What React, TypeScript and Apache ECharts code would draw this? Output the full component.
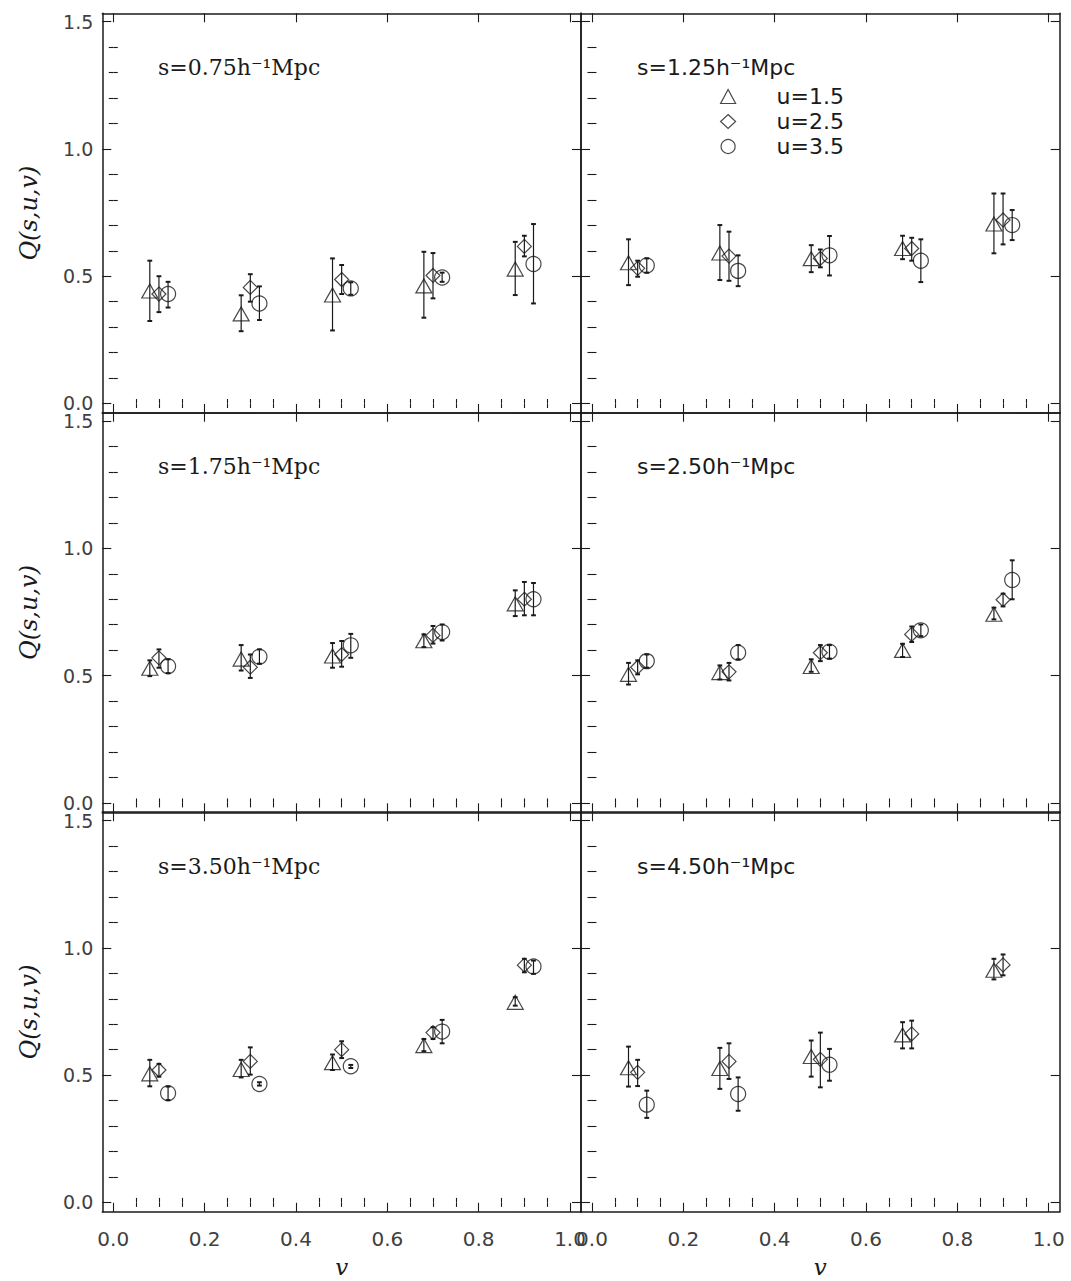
import React, { useEffect, useRef } from 'react';
import * as echarts from 'echarts';

// ---------------- data ----------------
const panelScales = ['0.75', '1.25', '1.75', '2.50', '3.50', '4.50'];
const seriesNames = ['u=1.5', 'u=2.5', 'u=3.5'];
const seriesSymbols = ['triangle', 'diamond', 'circle'];

// v positions of the points (each u is shifted a little in v)
const vU15 = [0.08, 0.28, 0.48, 0.68, 0.88];
const vU25 = [0.1, 0.3, 0.5, 0.7, 0.9];
const vU35 = [0.12, 0.32, 0.52, 0.72, 0.92];

// [Q, lower, upper]
const s075U15 = [[0.442, 0.324, 0.561], [0.352, 0.284, 0.425], [0.426, 0.287, 0.570], [0.462, 0.337, 0.596], [0.528, 0.426, 0.635]];
const s075U25 = [[0.430, 0.359, 0.500], [0.456, 0.400, 0.508], [0.487, 0.430, 0.544], [0.503, 0.413, 0.591], [0.617, 0.578, 0.659]];
const s075U35 = [[0.430, 0.377, 0.478], [0.393, 0.328, 0.460], [0.452, 0.427, 0.476], [0.495, 0.478, 0.514], [0.548, 0.393, 0.705]];

const s125U15 = [[0.553, 0.465, 0.645], [0.591, 0.485, 0.701], [0.569, 0.516, 0.622], [0.609, 0.567, 0.659], [0.705, 0.590, 0.825]];
const s125U25 = [[0.531, 0.498, 0.561], [0.579, 0.482, 0.675], [0.570, 0.535, 0.605], [0.609, 0.561, 0.651], [0.721, 0.625, 0.825]];
const s125U35 = [[0.542, 0.514, 0.570], [0.521, 0.461, 0.582], [0.582, 0.503, 0.658], [0.561, 0.477, 0.645], [0.701, 0.642, 0.760]];

const s175U15 = [[0.529, 0.498, 0.560], [0.565, 0.520, 0.620], [0.577, 0.531, 0.628], [0.637, 0.612, 0.662], [0.782, 0.734, 0.835]];
const s175U25 = [[0.570, 0.531, 0.603], [0.533, 0.491, 0.583], [0.583, 0.535, 0.636], [0.658, 0.626, 0.695], [0.800, 0.737, 0.868]];
const s175U35 = [[0.537, 0.510, 0.564], [0.574, 0.547, 0.603], [0.619, 0.570, 0.664], [0.671, 0.638, 0.701], [0.800, 0.737, 0.864]];

const s250U15 = [[0.505, 0.465, 0.550], [0.512, 0.485, 0.540], [0.536, 0.515, 0.564], [0.599, 0.573, 0.625], [0.741, 0.721, 0.767]];
const s250U25 = [[0.533, 0.505, 0.560], [0.515, 0.481, 0.550], [0.590, 0.557, 0.620], [0.662, 0.632, 0.693], [0.798, 0.772, 0.822]];
const s250U35 = [[0.557, 0.531, 0.583], [0.590, 0.564, 0.620], [0.594, 0.567, 0.620], [0.678, 0.655, 0.701], [0.876, 0.800, 0.953]];

const s350U15 = [[0.505, 0.456, 0.560], [0.522, 0.491, 0.560], [0.549, 0.520, 0.581], [0.616, 0.594, 0.642], [0.786, 0.773, 0.806]];
const s350U25 = [[0.520, 0.494, 0.544], [0.554, 0.502, 0.609], [0.600, 0.567, 0.633], [0.667, 0.642, 0.688], [0.932, 0.904, 0.957]];
const s350U35 = [[0.429, 0.402, 0.455], [0.465, 0.459, 0.472], [0.535, 0.528, 0.540], [0.671, 0.625, 0.717], [0.927, 0.898, 0.950]];

const s450U15 = [[0.529, 0.455, 0.612], [0.526, 0.446, 0.607], [0.573, 0.494, 0.636], [0.658, 0.605, 0.708], [0.912, 0.876, 0.957]];
const s450U25 = [[0.511, 0.457, 0.560], [0.554, 0.485, 0.625], [0.562, 0.452, 0.667], [0.662, 0.605, 0.714], [0.933, 0.892, 0.974]];
const s450U35 = [[0.384, 0.332, 0.439], [0.426, 0.360, 0.491], [0.541, 0.478, 0.603], null, null];

const panelData = [
  [s075U15, s075U25, s075U35],
  [s125U15, s125U25, s125U35],
  [s175U15, s175U25, s175U35],
  [s250U15, s250U25, s250U35],
  [s350U15, s350U25, s350U35],
  [s450U15, s450U25, s450U35],
];
const vPositions = [vU15, vU25, vU35];

// axis ticks
const xMajorTicks = [0, 0.2, 0.4, 0.6, 0.8, 1.0];
const xMinorTicks = [0.05, 0.1, 0.15, 0.25, 0.3, 0.35, 0.45, 0.5, 0.55, 0.65, 0.7, 0.75, 0.85, 0.9, 0.95];
const yMajorTicks = [0, 0.5, 1.0, 1.5];
const yMinorTicks = [0.1, 0.2, 0.3, 0.4, 0.6, 0.7, 0.8, 0.9, 1.1, 1.2, 1.3, 1.4];
const X_MIN = -0.024, X_MAX = 1.024;
const Y_MIN = -0.037, Y_MAX = 1.533;

// ---------------- layout ----------------
const COL_LEFT = [102.3, 581];
const ROW_TOP = [13.3, 412.7, 812.2];
const PW = 478.7;
const PH = 399.6;

const INK = '#1a1a1a';
const LABEL_COLOR = '#404040';
const SANS = 'DejaVu Sans';
const SERIF = 'DejaVu Serif';

function buildOption() {
  const grid: any[] = [];
  const xAxis: any[] = [];
  const yAxis: any[] = [];
  const series: any[] = [];
  const title: any[] = [];

  for (let p = 0; p < 6; p++) {
    const row = Math.floor(p / 2);
    const col = p % 2;
    const left = COL_LEFT[col];
    const top = ROW_TOP[row];
    grid.push({ left, top, width: PW, height: PH, containLabel: false, outerBoundsMode: 'none' });

    const bottomRow = row === 2;
    const leftCol = col === 0;
    const base = {
      type: 'value', gridIndex: p, min: X_MIN, max: X_MAX,
      splitLine: { show: false }, axisLabel: { show: false }, axisTick: { show: false }, axisLine: { show: false },
    };
    const frameLine = { show: true, onZero: false, lineStyle: { color: INK, width: 1.5 } };
    const majTick = (vals: number[]) => ({ show: true, inside: true, length: 9, customValues: vals, lineStyle: { color: INK, width: 1.1 } });
    const minTick = (vals: number[]) => ({ show: true, inside: true, length: 4.5, customValues: vals, lineStyle: { color: INK, width: 1.1 } });

    // x axes
    xAxis.push({
      ...base, position: 'bottom', axisLine: frameLine, axisTick: majTick(xMajorTicks),
      axisLabel: {
        show: bottomRow, customValues: xMajorTicks, formatter: (v: number) => v.toFixed(1),
        margin: 17, fontSize: 20, color: LABEL_COLOR, fontFamily: SANS,
      },
      name: bottomRow ? 'v' : '', nameLocation: 'middle', nameGap: 44,
      nameTextStyle: { fontFamily: SERIF, fontStyle: 'italic', fontSize: 23, color: INK },
    });
    xAxis.push({ ...base, position: 'bottom', axisTick: minTick(xMinorTicks) });
    xAxis.push({ ...base, position: 'top', axisLine: frameLine, axisTick: majTick(xMajorTicks) });
    xAxis.push({ ...base, position: 'top', axisTick: minTick(xMinorTicks) });

    const ybase = { ...base, min: Y_MIN, max: Y_MAX };
    yAxis.push({
      ...ybase, position: 'left', axisLine: frameLine, axisTick: majTick(yMajorTicks),
      axisLabel: {
        show: leftCol, customValues: yMajorTicks, formatter: (v: number) => v.toFixed(1),
        margin: 9, fontSize: 19, lineHeight: 15, color: LABEL_COLOR, fontFamily: SANS,
      },
      name: leftCol ? 'Q(s,u,v)' : '', nameLocation: 'middle', nameGap: 61, nameRotate: 90,
      nameTextStyle: { fontFamily: SERIF, fontStyle: 'italic', fontSize: 24, color: INK },
    });
    yAxis.push({ ...ybase, position: 'left', axisTick: minTick(yMinorTicks) });
    yAxis.push({ ...ybase, position: 'right', axisLine: frameLine, axisTick: majTick(yMajorTicks) });
    yAxis.push({ ...ybase, position: 'right', axisTick: minTick(yMinorTicks) });

    const axIdx = p * 4;
    for (let u = 0; u < 3; u++) {
      const rows = panelData[p][u];
      const pts: number[][] = [];
      const bars: number[][] = [];
      rows.forEach((r: any, i: number) => {
        if (!r) return;
        pts.push([vPositions[u][i], r[0]]);
        bars.push([vPositions[u][i], r[1], r[2]]);
      });
      series.push({
        type: 'custom', name: 'err-' + p + '-' + u, xAxisIndex: axIdx, yAxisIndex: axIdx,
        data: bars, encode: { x: 0, y: [1, 2] }, silent: true, clip: false,
        renderItem: (params: any, api: any) => {
          const x = api.value(0);
          const a = api.coord([x, api.value(1)]);
          const b = api.coord([x, api.value(2)]);
          const cap = 2.4;
          const st = { stroke: INK, lineWidth: 1.2 };
          const capSt = { stroke: INK, lineWidth: 2 };
          return {
            type: 'group', children: [
              { type: 'line', shape: { x1: a[0], y1: a[1], x2: b[0], y2: b[1] }, style: st },
              { type: 'line', shape: { x1: a[0] - cap, y1: a[1], x2: a[0] + cap, y2: a[1] }, style: capSt },
              { type: 'line', shape: { x1: b[0] - cap, y1: b[1], x2: b[0] + cap, y2: b[1] }, style: capSt },
            ],
          };
        },
      });
      series.push({
        type: 'scatter', name: seriesNames[u], xAxisIndex: axIdx, yAxisIndex: axIdx,
        data: pts, symbol: seriesSymbols[u],
        symbolSize: u === 0 ? [16, 14] : u === 1 ? [14, 14] : 15,
        itemStyle: { color: 'rgba(255,255,255,0)', borderColor: INK, borderWidth: 1.2 },
        clip: false, silent: true,
      });
    }

    const labelText = 's=' + panelScales[p] + 'h\u207B\u00B9Mpc';
    title.push({
      text: labelText,
      left: leftCol ? 158 : 637,
      top: top + 43,
      textStyle: { fontFamily: leftCol ? SERIF : SANS, fontSize: 22, fontWeight: 'normal', color: INK },
      padding: 0,
    });
  }

  return {
    animation: false,
    backgroundColor: '#ffffff',
    textStyle: { fontFamily: SANS },
    title,
    grid,
    xAxis,
    yAxis,
    legend: {
      data: seriesNames,
      orient: 'vertical',
      left: 720,
      top: 84,
      padding: 0,
      itemWidth: 15,
      itemHeight: 14,
      itemGap: 0,
      selectedMode: false,
      itemStyle: { color: 'rgba(255,255,255,0)', borderColor: INK, borderWidth: 1.2 },
      textStyle: { fontFamily: SANS, fontSize: 22, lineHeight: 25, color: INK, padding: [0, 0, 0, 36] },
    },
    series,
  };
}

export default function App() {
  const ref = useRef<HTMLDivElement>(null);
  useEffect(() => {
    document.body.style.margin = '0';
    if (!ref.current) return;
    const chart = echarts.init(ref.current, undefined, { renderer: 'svg' });
    chart.setOption(buildOption() as any);
    return () => chart.dispose();
  }, []);
  return <div ref={ref} style={{ position: 'absolute', left: 0, top: 0, width: 1071, height: 1281, background: '#fff' }} />;
}
